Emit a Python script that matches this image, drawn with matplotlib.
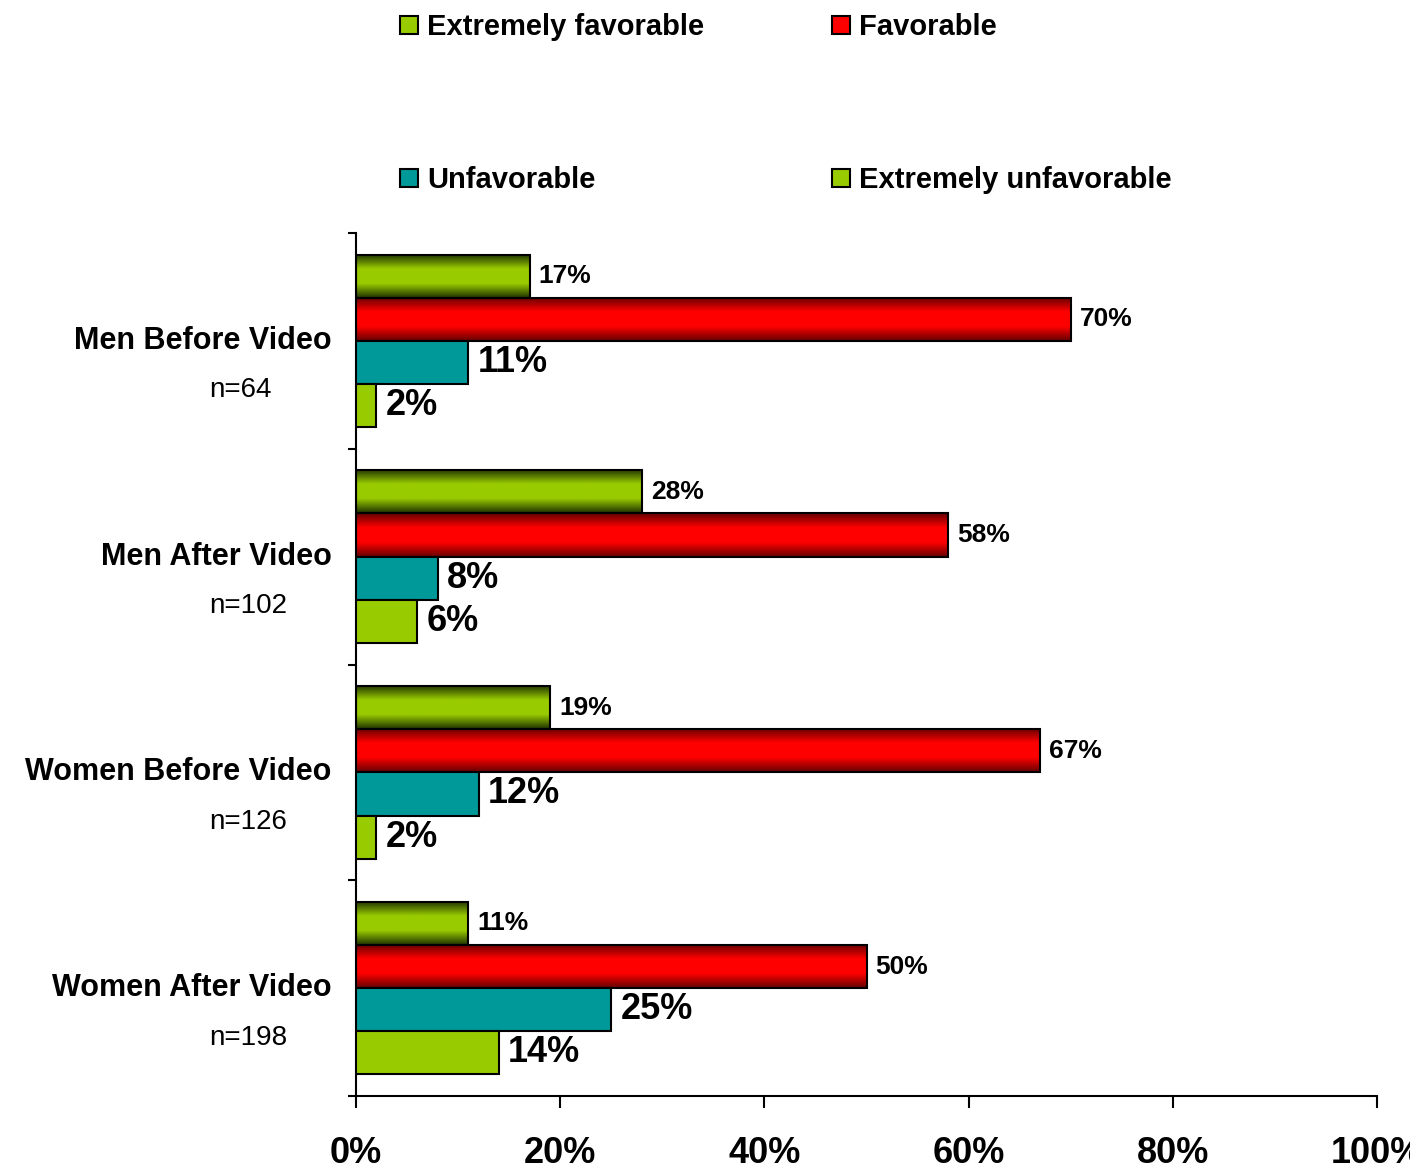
import numpy as np
import matplotlib
matplotlib.use('Agg')
import matplotlib.pyplot as plt
from matplotlib.colors import LinearSegmentedColormap
from matplotlib.patches import Rectangle

plt.rcParams['font.family'] = ['Liberation Sans', 'DejaVu Sans']

groups = ['Men Before Video', 'Men After Video', 'Women Before Video', 'Women After Video']
sizes = ['n=64', 'n=102', 'n=126', 'n=198']
series = ['Extremely favorable', 'Favorable', 'Unfavorable', 'Extremely unfavorable']
ext_fav = [17, 28, 19, 11]
fav = [70, 58, 67, 50]
unfav = [11, 8, 12, 25]
ext_unfav = [2, 6, 2, 14]
values = [ext_fav, fav, unfav, ext_unfav]
xticks = [0, 20, 40, 60, 80, 100]

base_colors = ['#99cc00', '#ff0000', '#009999', '#99cc00']
dark_colors = ['#1f3300', '#660000', None, None]
label_sizes = [19, 19, 26, 26]

W, H = 1410, 1171
fig = plt.figure(figsize=(W / 100, H / 100), dpi=100)
ax = fig.add_axes([356 / W, 75 / H, 1021 / W, 863 / H])

bh = 0.2
offsets = [-0.3, -0.1, 0.1, 0.3]
y = np.arange(len(groups))

for s in range(4):
    for i in range(len(groups)):
        v = values[s][i]
        yc = y[i] + offsets[s]
        if dark_colors[s] is not None:
            cmap = LinearSegmentedColormap.from_list(
                'g', [dark_colors[s], base_colors[s], base_colors[s], dark_colors[s]])
            grad = np.linspace(0, 1, 100).reshape(-1, 1)
            ax.imshow(grad, cmap=cmap, aspect='auto', interpolation='bicubic',
                      extent=(0, v, yc + bh / 2, yc - bh / 2), zorder=2)
            ax.barh(yc, v, height=bh, color='none', edgecolor='black', linewidth=1.5, zorder=3)
        else:
            ax.barh(yc, v, height=bh, color=base_colors[s], edgecolor='black', linewidth=1.5, zorder=3)
        ax.text(v + 0.9, yc, f'{v}%', va='center', ha='left', fontsize=label_sizes[s],
                fontweight='bold', zorder=4)

ax.set_xlim(0, 100)
ax.set_ylim(3.5, -0.5)
ax.set_xticks(xticks)
ax.set_xticklabels([f'{t}%' for t in xticks], fontsize=26, fontweight='bold')
ax.tick_params(axis='x', direction='out', length=8.5, width=1.5, pad=20)
ax.set_yticks([])
ax.set_yticks(np.arange(-0.5, 4.0, 1.0), minor=True)
ax.tick_params(axis='y', which='minor', direction='out', length=6, width=1.5)
ax.spines['top'].set_visible(False)
ax.spines['right'].set_visible(False)
ax.spines['left'].set_linewidth(1.5)
ax.spines['bottom'].set_linewidth(1.5)

trans = ax.get_yaxis_transform()
for i in range(len(groups)):
    ax.text(-0.024, y[i], groups[i], transform=trans, ha='right', va='center',
            fontsize=22, fontweight='bold')
    ax.text(-0.144, y[i] + 0.23, sizes[i], transform=trans, ha='left', va='center',
            fontsize=20)

# legend, 2 x 2, rows filled left to right
leg_pos = [(400, 25), (832, 25), (400, 178), (832, 178)]
for (px, py), name, c in zip(leg_pos, series, base_colors):
    fig.patches.append(Rectangle((px / W, 1 - (py + 9) / H), 18 / W, 18 / H,
                                 transform=fig.transFigure, facecolor=c,
                                 edgecolor='black', linewidth=1.5))
    fig.text((px + 27) / W, 1 - (py + 2) / H, name, ha='left', va='center',
             fontsize=21, fontweight='bold')

fig.savefig('out.png', dpi=100)
